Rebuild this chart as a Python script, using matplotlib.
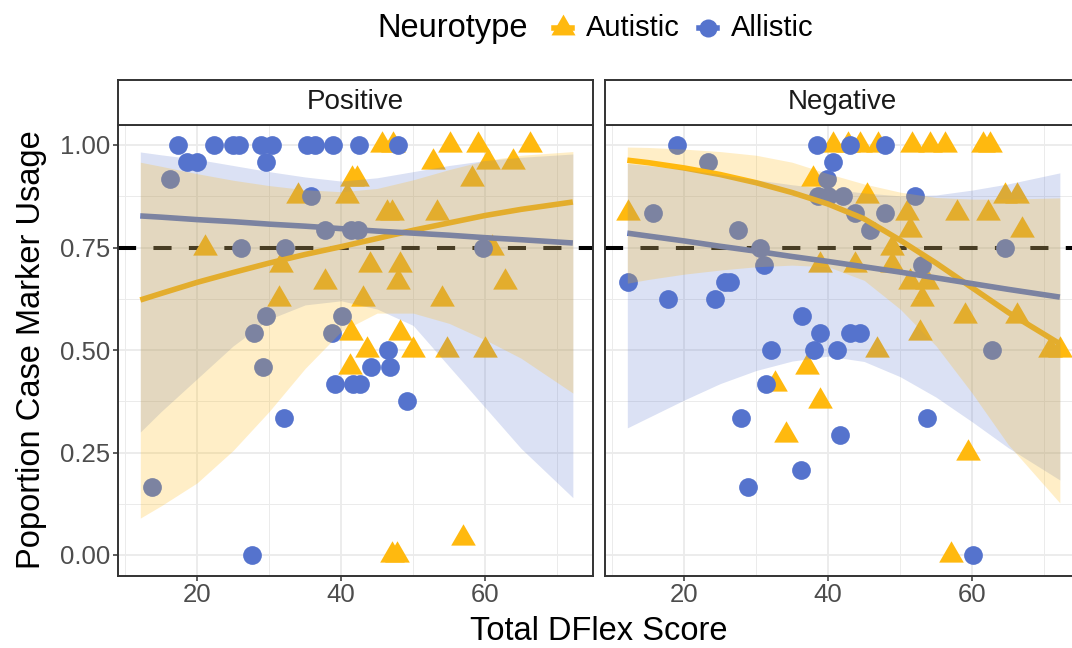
import matplotlib.pyplot as plt
import numpy as np
from matplotlib.path import Path
from matplotlib.lines import Line2D

plt.rcParams['font.family'] = ['Liberation Sans', 'DejaVu Sans']

# couleurs des groupes
AUT = '#FFB90F'
ALL = '#5573CD'
GRID = '#EBEBEB'
DARK = '#333333'

# --- Positive : points ---
pos_aut_x = [45.7, 47.2, 55.1, 59.0, 66.25,
             52.8, 60.4, 63.9,
             41.5, 42.2, 58.2,
             34.0, 40.8,
             46.4, 47.1, 53.3,
             21.1, 61.0,
             31.7, 44.0, 48.2,
             37.8, 47.9, 62.8,
             31.4, 43.1, 54.0,
             41.4, 48.2,
             43.6, 50.0, 54.7, 60.0,
             41.25,
             56.9,
             47.1, 47.8]
pos_aut_y = [1.0] * 5 + [0.958] * 3 + [0.917] * 3 + [0.875] * 2 + [0.833] * 3 + \
            [0.75] * 2 + [0.708] * 3 + [0.667] * 3 + [0.625] * 3 + [0.542] * 2 + \
            [0.5] * 4 + [0.458] + [0.042] + [0.0] * 2

pos_all_x = [17.4, 22.4, 25.0, 25.8, 28.9, 30.4, 35.3, 36.4, 38.9, 42.5, 47.9,
             18.6, 20.0, 29.6,
             16.25,
             35.8,
             37.8, 41.4, 42.4,
             26.1, 32.2, 59.7,
             29.6, 40.1,
             27.9, 38.75,
             46.5,
             29.2, 44.2, 46.8,
             39.2, 41.7, 42.6,
             49.2,
             32.1,
             13.75,
             27.6]
pos_all_y = [1.0] * 11 + [0.958] * 3 + [0.917] + [0.875] + [0.792] * 3 + \
            [0.75] * 3 + [0.583] * 2 + [0.542] * 2 + [0.5] + [0.458] * 3 + \
            [0.417] * 3 + [0.375] + [0.333] + [0.167] + [0.0]

# --- Negative : points ---
neg_aut_x = [40.7, 42.8, 44.4, 47.0, 51.7, 54.2, 56.25, 61.5, 62.5,
             37.9,
             45.4, 64.6, 66.25,
             12.2, 51.0, 57.9, 62.2,
             51.4, 66.9,
             48.9,
             38.9, 43.75, 48.9,
             51.4, 53.75,
             53.1,
             59.0, 66.25,
             52.8,
             46.8, 70.8, 72.2,
             37.1, 32.6, 38.9, 34.2, 59.4, 57.1]
neg_aut_y = [1.0] * 9 + [0.917] + [0.875] * 3 + [0.833] * 4 + [0.792] * 2 + \
            [0.75] + [0.708] * 3 + [0.667] * 2 + [0.625] + [0.583] * 2 + \
            [0.542] + [0.5] * 3 + [0.458, 0.417, 0.375, 0.292, 0.25, 0.0]

neg_all_x = [19.0, 38.5, 43.1, 47.9,
             23.3, 40.7,
             39.9,
             38.6, 40.0, 42.0, 52.1,
             15.7, 43.75, 47.9,
             27.5, 45.8,
             30.6, 64.6,
             31.1, 53.1,
             12.2, 25.7, 26.4,
             17.8, 24.3,
             36.4,
             38.9, 43.1, 44.4,
             32.1, 38.1, 41.2, 62.8,
             31.4,
             27.9, 53.75,
             41.7, 36.25, 28.9, 60.1]
neg_all_y = [1.0] * 4 + [0.958] * 2 + [0.917] + [0.875] * 4 + [0.833] * 3 + \
            [0.792] * 2 + [0.75] * 2 + [0.708] * 2 + [0.667] * 3 + [0.625] * 2 + \
            [0.583] + [0.542] * 3 + [0.5] * 4 + [0.417] + [0.333] * 2 + \
            [0.292, 0.208, 0.167, 0.0]

# --- courbes ajustées et intervalles de confiance ---
fit_x = [12.1, 15, 20, 25, 30, 35, 40, 45, 50, 55, 60, 65, 72.2]

pos_aut_fit = [0.622, 0.638, 0.665, 0.689, 0.712, 0.733, 0.752, 0.772, 0.792, 0.81, 0.828, 0.843, 0.861]
pos_aut_lo = [0.09, 0.12, 0.176, 0.255, 0.35, 0.455, 0.545, 0.59, 0.59, 0.565, 0.525, 0.48, 0.395]
pos_aut_hi = [0.958, 0.948, 0.93, 0.914, 0.901, 0.891, 0.886, 0.894, 0.915, 0.94, 0.962, 0.975, 0.984]
pos_all_fit = [0.827, 0.824, 0.818, 0.813, 0.807, 0.802, 0.796, 0.79, 0.785, 0.78, 0.774, 0.769, 0.761]
pos_all_lo = [0.30, 0.35, 0.43, 0.51, 0.575, 0.61, 0.62, 0.60, 0.56, 0.46, 0.36, 0.26, 0.14]
pos_all_hi = [0.983, 0.976, 0.965, 0.95, 0.935, 0.922, 0.912, 0.92, 0.935, 0.95, 0.962, 0.97, 0.978]

neg_aut_fit = [0.963, 0.957, 0.944, 0.928, 0.908, 0.884, 0.856, 0.82, 0.768, 0.712, 0.652, 0.592, 0.515]
neg_aut_lo = [0.663, 0.672, 0.685, 0.695, 0.703, 0.707, 0.703, 0.67, 0.6, 0.51, 0.395, 0.27, 0.127]
neg_aut_hi = [0.995, 0.994, 0.99, 0.984, 0.975, 0.958, 0.93, 0.905, 0.885, 0.872, 0.868, 0.868, 0.871]
neg_all_fit = [0.785, 0.778, 0.766, 0.753, 0.741, 0.728, 0.716, 0.703, 0.69, 0.676, 0.662, 0.648, 0.629]
neg_all_lo = [0.31, 0.335, 0.378, 0.418, 0.45, 0.473, 0.485, 0.472, 0.435, 0.385, 0.325, 0.262, 0.183]
neg_all_hi = [0.955, 0.95, 0.94, 0.928, 0.915, 0.903, 0.893, 0.883, 0.876, 0.878, 0.89, 0.905, 0.932]

# triangle centré sur son centre de gravité (comme pch 17)
tri = Path([[0, 1], [-0.866, -0.5], [0.866, -0.5], [0, 1]],
           [Path.MOVETO, Path.LINETO, Path.LINETO, Path.CLOSEPOLY])

W, H = 1072, 648
fig = plt.figure(figsize=(W / 100, H / 100), dpi=100)


def px_box(left, top, width, height):
    return [left / W, 1 - (top + height) / H, width / W, height / H]


def panel(left, title, aut_x, aut_y, all_x, all_y,
          a_fit, a_lo, a_hi, b_fit, b_lo, b_hi, show_y):
    ax = fig.add_axes(px_box(left, 124.5, 475, 451))
    ax.set_xlim(9.0, 75.0)
    ax.set_ylim(-0.05, 1.05)
    ax.set_xticks([20, 40, 60])
    ax.set_xticks([10, 30, 50, 70], minor=True)
    ax.set_yticks([0, 0.25, 0.5, 0.75, 1.0])
    ax.set_yticks([0.125, 0.375, 0.625, 0.875], minor=True)
    ax.grid(which='major', color=GRID, lw=1.3, zorder=0)
    ax.grid(which='minor', color=GRID, lw=0.7, zorder=0)
    ax.set_axisbelow(True)
    ax.tick_params(which='major', direction='out', length=3.5, width=1.1,
                   color=DARK, labelsize=18.5, labelcolor='#4D4D4D', pad=2)
    ax.tick_params(which='minor', length=0)
    if show_y:
        ax.set_yticklabels(['0.00', '0.25', '0.50', '0.75', '1.00'])
    else:
        ax.tick_params(axis='y', which='both', left=False, labelleft=False)
    for s in ax.spines.values():
        s.set_color(DARK)
        s.set_linewidth(1.4)
        s.set_zorder(10)

    # seuil, points, courbes, puis les rubans par-dessus
    ax.axhline(0.75, color='black', lw=2.9, dashes=(4.5, 4.3), zorder=1)
    ax.plot(aut_x, aut_y, ls='none', marker=tri, ms=20.5, mew=0,
            color=AUT, zorder=2)
    ax.plot(all_x, all_y, ls='none', marker='o', ms=13.5, mew=0,
            color=ALL, zorder=2.1)
    ax.plot(fit_x, a_fit, color=AUT, lw=4, solid_capstyle='butt',
            solid_joinstyle='round', zorder=3)
    ax.plot(fit_x, b_fit, color=ALL, lw=4, solid_capstyle='butt',
            solid_joinstyle='round', zorder=3)
    ax.fill_between(fit_x, b_lo, b_hi, color=ALL, alpha=0.21, lw=0, zorder=4)
    ax.fill_between(fit_x, a_lo, a_hi, color=AUT, alpha=0.23, lw=0, zorder=5)

    # bandeau du facet
    st = fig.add_axes(px_box(left, 80, 475, 44.5))
    st.set_xticks([])
    st.set_yticks([])
    for s in st.spines.values():
        s.set_color(DARK)
        s.set_linewidth(1.4)
    st.text(0.5, 0.5, title, ha='center', va='center', fontsize=20,
            color='#1A1A1A', transform=st.transAxes)
    return ax


panel(118, 'Positive', pos_aut_x, pos_aut_y, pos_all_x, pos_all_y,
      pos_aut_fit, pos_aut_lo, pos_aut_hi, pos_all_fit, pos_all_lo, pos_all_hi,
      True)
panel(605, 'Negative', neg_aut_x, neg_aut_y, neg_all_x, neg_all_y,
      neg_aut_fit, neg_aut_lo, neg_aut_hi, neg_all_fit, neg_all_lo, neg_all_hi,
      False)

fig.text(599 / W, 1 - 631 / H, 'Total DFlex Score', ha='center', va='center',
         fontsize=23.5)
fig.text(32 / W, 1 - 350 / H, 'Poportion Case Marker Usage', ha='center',
         va='center', rotation=90, fontsize=23.5)

# légende en haut
ly = 1 - 28 / H
fig.text(377 / W, ly, 'Neurotype', ha='left', va='center', fontsize=23.5)
for cx, col, mk, ms, lab in [(563, AUT, tri, 20, 'Autistic'),
                             (708, ALL, 'o', 13, 'Allistic')]:
    fig.add_artist(Line2D([(cx - 9) / W, (cx + 9) / W], [ly, ly], color=col,
                          lw=4, transform=fig.transFigure))
    fig.add_artist(Line2D([cx / W], [ly], marker=mk, ms=ms, mew=0, color=col,
                          ls='none', transform=fig.transFigure))
    fig.text((cx + 23) / W, ly, lab, ha='left', va='center', fontsize=21)

fig.savefig('out.png', dpi=100)
